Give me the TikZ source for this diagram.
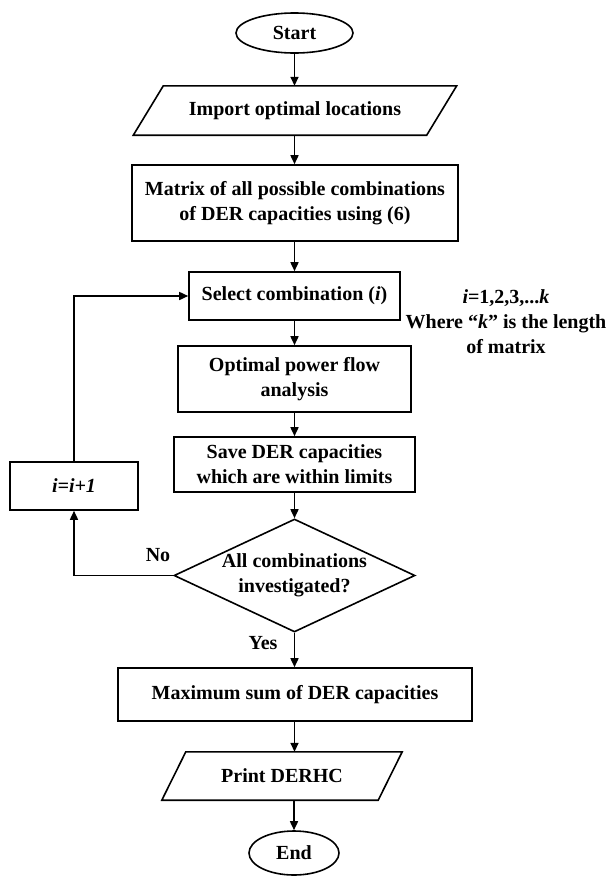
\documentclass[tikz,border=0pt]{standalone}
\usepackage{fontspec}
\setmainfont{Liberation Serif}
\usetikzlibrary{shapes.geometric,arrows.meta}
\begin{document}
\begin{tikzpicture}[x=1pt,y=-1pt,
  every node/.style={font=\fontsize{20}{25}\selectfont\bfseries},
  proc/.style={draw,line width=1.6pt,rectangle,inner sep=0pt,align=center},
  io/.style={rectangle,inner sep=0pt,align=center},
  iopath/.style={line width=1.6pt,line join=miter},
  term/.style={draw,line width=1.6pt,ellipse,inner sep=0pt},
  dec/.style={draw,line width=1.6pt,diamond,inner sep=0pt},
  txt/.style={inner sep=0pt,align=center},
  arr/.style={line width=1.6pt,-{Triangle[length=9pt,width=8pt]}}]
\useasboundingbox (0,0) rectangle (613,876);

\node[term,minimum width=117pt,minimum height=40pt] (start) at (294.5,33) {Start};

\node[io,minimum width=293pt,minimum height=49pt] (import) at (295,110.5) {Import optimal locations};
\draw[iopath] ([xshift=-15pt]import.south west) -- ([xshift=-15pt]import.south east) -- ([xshift=15pt]import.north east) -- ([xshift=15pt]import.north west) -- cycle;

\node[proc,minimum width=326pt,minimum height=76pt] (matrix) at (295,203) {Matrix of all possible combinations\\of DER capacities using (6)};

\node[proc,minimum width=211pt,minimum height=48pt] (select) at (294.5,296) {Select combination (\textit{i})};

\node[txt] (note) at (506,322) {\textit{i}=1,2,3,...\textit{k}\\Where “\textit{k}” is the length\\of matrix};

\node[proc,minimum width=233pt,minimum height=66pt] (opf) at (294.5,379) {Optimal power flow\\analysis};

\node[proc,minimum width=241pt,minimum height=55pt] (save) at (294.5,464.5) {Save DER capacities\\which are within limits};

\node[proc,minimum width=128pt,minimum height=48pt] (inc) at (74,486) {\textit{i=i+1}};

\node[dec,minimum width=241pt,minimum height=113pt] (dia) at (294.5,575.5) {};
\node[txt] (diatext) at (294.5,575.5) {All combinations\\investigated?};

\node[txt] (no) at (158,555) {No};
\node[txt] (yes) at (263,643) {Yes};

\node[proc,minimum width=354pt,minimum height=53pt] (max) at (295,694.5) {Maximum sum of DER capacities};

\node[io,minimum width=216pt,minimum height=48pt] (print) at (282,776) {Print DERHC};
\draw[iopath] ([xshift=-12pt]print.south west) -- ([xshift=-12pt]print.south east) -- ([xshift=12pt]print.north east) -- ([xshift=12pt]print.north west) -- cycle;

\node[term,minimum width=90pt,minimum height=44pt] (end) at (294,853) {End};

\draw[arr] (start.south) -- (start.south |- import.north);
\draw[arr] (start.south |- import.south) -- (start.south |- matrix.north);
\draw[arr] (start.south |- matrix.south) -- (start.south |- select.north);
\draw[arr] (select.south) -- (select.south |- opf.north);
\draw[arr] (opf.south) -- (opf.south |- save.north);
\draw[arr] (save.south) -- (dia.north);
\draw[arr] (dia.south) -- (dia.south |- max.north);
\draw[arr] (dia.south |- max.south) -- (dia.south |- print.north);
\draw[arr] (end.north |- print.south) -- (end.north);
\draw[arr] (dia.west) -| (inc.south);
\draw[arr] (inc.north) |- (select.west);
\end{tikzpicture}
\end{document}
